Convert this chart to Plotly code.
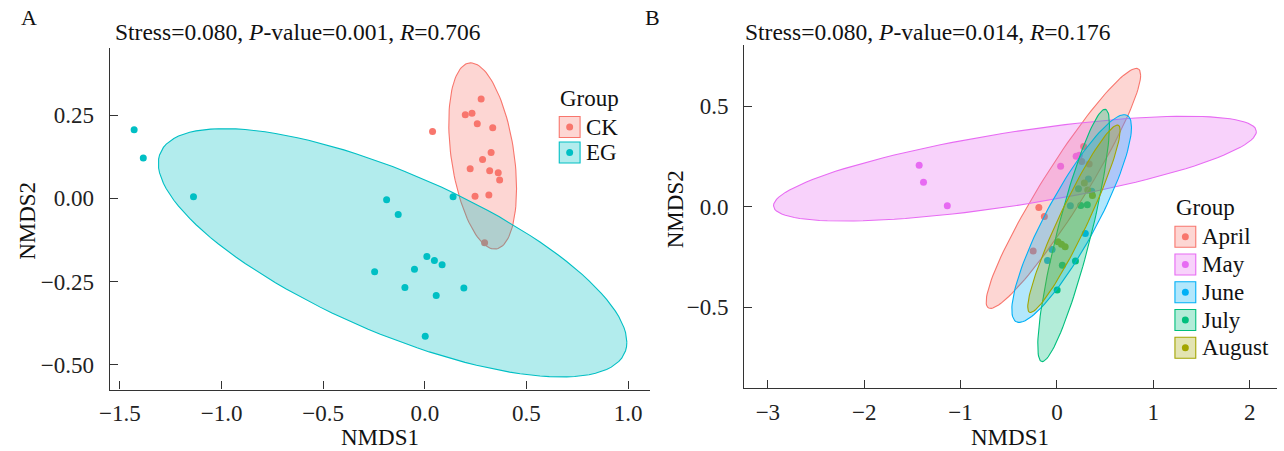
import numpy as np
import plotly.graph_objects as go

# ---------------- data (NMDS scores) ----------------
nmds1 = [-1.430, -1.385, -1.138, -0.188, -0.131, 0.139, 0.010, 0.047, 0.085, -0.051,
         -0.247, -0.098, 0.056, 0.192, 0.002,
         0.038, 0.277, 0.199, 0.232, 0.258, 0.334, 0.326, 0.284, 0.223, 0.319,
         0.361, 0.368, 0.247, 0.315, 0.294]
nmds2 = [0.206, 0.121, 0.005, -0.004, -0.049, 0.005, -0.175, -0.187, -0.200, -0.213,
         -0.221, -0.268, -0.292, -0.270, -0.415,
         0.201, 0.299, 0.251, 0.256, 0.224, 0.212, 0.138, 0.117, 0.089, 0.083,
         0.077, 0.055, 0.006, 0.010, -0.134]
treatment = ["EG"] * 15 + ["CK"] * 15
month = ["May", "May", "May", "April", "April", "June", "August", "August", "August", "June",
         "April", "June", "July", "July", "July",
         "May", "April", "May", "May", "April", "April", "June", "August", "July", "August",
         "June", "August", "July", "July", "June"]

groups_a = ["CK", "EG"]
colors_a = ["#F8766D", "#00BFC4"]
groups_b = ["April", "May", "June", "July", "August"]
colors_b = ["#F8766D", "#E76BF3", "#00B0F6", "#00BF7D", "#A3A500"]

title_a = "Stress=0.080, <i>P</i>-value=0.001, <i>R</i>=0.706"
title_b = "Stress=0.080, <i>P</i>-value=0.014, <i>R</i>=0.176"
xticks_a = [-1.5, -1.0, -0.5, 0.0, 0.5, 1.0]
xlabels_a = ["\u22121.5", "\u22121.0", "\u22120.5", "0.0", "0.5", "1.0"]
yticks_a = [-0.50, -0.25, 0.00, 0.25]
ylabels_a = ["\u22120.50", "\u22120.25", "0.00", "0.25"]
xticks_b = [-3, -2, -1, 0, 1, 2]
xlabels_b = ["\u22123", "\u22122", "\u22121", "0", "1", "2"]
yticks_b = [-0.5, 0.0, 0.5]
ylabels_b = ["\u22120.5", "0.0", "0.5"]

# ---------------- ellipse (ggplot2 stat_ellipse, type = "t", level 0.95) ----------------
def cov_trob(X, nu=5, maxit=25, tol=0.01):
    n, p = X.shape
    wt = np.ones(n)
    loc = X.mean(axis=0)
    w = np.sqrt(wt)
    Xc = X - loc
    for _ in range(maxit):
        w0 = w
        Xc = X - loc
        A = np.sqrt(w / w.sum())[:, None] * Xc
        _, d, Vt = np.linalg.svd(A, full_matrices=False)
        wX = Xc @ Vt.T @ np.diag(1.0 / d)
        Q = (wX ** 2).sum(axis=1)
        w = wt * (nu + p) / (nu + Q)
        loc = (w[:, None] * X).sum(axis=0) / w.sum()
        if np.all(np.abs(w - w0) < tol):
            break
    S = np.sqrt(w)[:, None] * Xc
    return loc, S.T @ S / wt.sum()


def ellipse(xs, ys, level=0.95, segments=120):
    X = np.column_stack([xs, ys])
    dfd = len(xs) - 1
    fq = dfd / 2.0 * ((1 - level) ** (-2.0 / dfd) - 1)  # qf(level, 2, dfd)
    radius = np.sqrt(2 * fq)
    center, shape = cov_trob(X)
    R = np.linalg.cholesky(shape).T
    ang = np.linspace(0, 2 * np.pi, segments + 1)
    circ = np.column_stack([np.cos(ang), np.sin(ang)])
    e = center + radius * (circ @ R)
    return e[:, 0], e[:, 1]


def rgba(hexc, a):
    h = hexc.lstrip("#")
    return "rgba(%d,%d,%d,%.2f)" % (int(h[0:2], 16), int(h[2:4], 16), int(h[4:6], 16), a)


W, H = 1284, 451
def px(x): return x / W
def py(y): return 1 - y / H

fig = go.Figure()
x1 = np.array(nmds1); y1 = np.array(nmds2)

def add_panel(labels, groups, colors, xa, ya):
    lab = np.array(labels)
    for g, c in zip(groups, colors):
        m = lab == g
        fig.add_trace(go.Scatter(x=x1[m], y=y1[m], mode="markers", xaxis=xa, yaxis=ya,
                                 marker=dict(color=c, size=7, line=dict(width=0)),
                                 showlegend=False, name=g))
    for g, c in zip(groups, colors):
        m = lab == g
        ex, ey = ellipse(x1[m], y1[m])
        fig.add_trace(go.Scatter(x=ex, y=ey, mode="lines", fill="toself", xaxis=xa, yaxis=ya,
                                 fillcolor=rgba(c, 0.3), line=dict(color=c, width=1.1),
                                 showlegend=False, name=g, hoverinfo="skip"))

add_panel(treatment, groups_a, colors_a, "x", "y")
add_panel(month, groups_b, colors_b, "x2", "y2")

FONT = "Liberation Serif, Times New Roman, serif"
axis_common = dict(showgrid=False, zeroline=False, showline=True, linecolor="#333333",
                   linewidth=1.2, ticks="inside", ticklen=8, tickwidth=1.2, tickcolor="#333333",
                   tickfont=dict(family=FONT, size=23, color="#222222"), mirror=False)
xstyle = dict(axis_common, ticklabelstandoff=3)
ystyle = dict(axis_common, ticklabelstandoff=10)

fig.update_layout(
    width=W, height=H, margin=dict(l=0, r=0, t=0, b=0),
    paper_bgcolor="white", plot_bgcolor="white", showlegend=False,
    xaxis=dict(domain=[px(99.6), px(645)], range=[-1.55, 1.11], tickvals=xticks_a,
               ticktext=xlabels_a, anchor="y", **xstyle),
    yaxis=dict(domain=[py(389.5), py(47.7)], range=[-0.575, 0.453], tickvals=yticks_a,
               ticktext=ylabels_a, anchor="x", **ystyle),
    xaxis2=dict(domain=[px(739.6), px(1277)], range=[-3.245, 2.284], tickvals=xticks_b,
                ticktext=xlabels_b, anchor="y2", **xstyle),
    yaxis2=dict(domain=[py(388), py(45)], range=[-0.902, 0.804], tickvals=yticks_b,
                ticktext=ylabels_b, anchor="x2", **ystyle),
)

ann = []
def text(x, y, t, size=23, xanchor="center", angle=0):
    ann.append(dict(x=px(x), y=py(y), xref="paper", yref="paper", text=t, showarrow=False,
                    xanchor=xanchor, yanchor="middle", textangle=angle,
                    font=dict(family=FONT, size=size, color="#111111")))

text(8, 17, "A", 22, "left")
text(637, 17, "B", 22, "left")
text(103, 32, title_a, 23.5, "left")
text(738, 32, title_b, 23.5, "left")
text(372, 437, "NMDS1", 23)
text(1008, 437, "NMDS1", 23)
text(16, 221, "NMDS2", 23, angle=-90)
text(671, 209, "NMDS2", 23, angle=-90)

shapes = []
def legend(x0, ytitle, ys, groups, colors):
    text(x0 - 1, ytitle, "Group", 23, "left")
    for yc, g, c in zip(ys, groups, colors):
        shapes.append(dict(type="rect", xref="paper", yref="paper", x0=px(x0), x1=px(x0 + 21),
                           y0=py(yc + 10.5), y1=py(yc - 10.5), fillcolor=rgba(c, 0.3),
                           line=dict(color=c, width=1.1)))
        shapes.append(dict(type="circle", xref="paper", yref="paper", x0=px(x0 + 7), x1=px(x0 + 14),
                           y0=py(yc + 3.5), y1=py(yc - 3.5), fillcolor=c, line=dict(width=0)))
        text(x0 + 25, yc, g, 23, "left")

legend(553, 99, [127, 152.5], groups_a, colors_a)
legend(1174, 207, [236.7, 264.5, 292.3, 320, 347.8], groups_b, colors_b)

fig.update_layout(annotations=ann, shapes=shapes)
fig.write_html("out.html")
